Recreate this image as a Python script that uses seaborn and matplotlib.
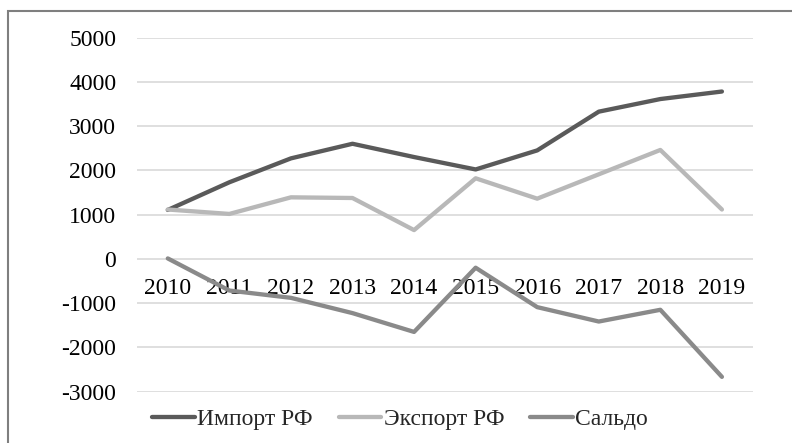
import matplotlib
matplotlib.use("Agg")
import matplotlib.pyplot as plt
from matplotlib.patches import Rectangle
import seaborn as sns
import pandas as pd

years = [2010, 2011, 2012, 2013, 2014, 2015, 2016, 2017, 2018, 2019]
import_rf = [1105, 1730, 2270, 2600, 2300, 2020, 2450, 3325, 3610, 3780]
export_rf = [1115, 1015, 1390, 1375, 650, 1820, 1360, 1910, 2460, 1115]
saldo = [10, -715, -880, -1225, -1650, -200, -1090, -1415, -1150, -2665]

series_names = ["Импорт РФ", "Экспорт РФ", "Сальдо"]
colors = ["#5a5a5a", "#b8b8b8", "#8a8a8a"]

df = pd.DataFrame({
    "year": years * 3,
    "value": import_rf + export_rf + saldo,
    "series": [series_names[0]] * 10 + [series_names[1]] * 10 + [series_names[2]] * 10,
})

sns.set_theme(style="white")
plt.rcParams["font.family"] = ["Liberation Serif", "DejaVu Serif"]
plt.rcParams["axes.unicode_minus"] = False

W, H = 792, 443
fig = plt.figure(figsize=(W / 100, H / 100), dpi=100)
ax = fig.add_axes([137 / W, 1 - 391.7 / H, (752.7 - 137) / W, (391.7 - 37.5) / H])

sns.lineplot(data=df, x="year", y="value", hue="series", palette=colors,
             linewidth=3.1, ax=ax, legend=False, zorder=3)

ax.set_xlim(2009.5, 2019.5)
ax.set_ylim(-3000, 5000)
ax.set_yticks(range(-3000, 5001, 1000))
ax.set_xticks(years)
ax.set_xticklabels([str(y) for y in years])
ax.yaxis.grid(True, color="#d9d9d9", linewidth=1.2, zorder=0)
ax.xaxis.grid(False)
for s in ["top", "right", "left"]:
    ax.spines[s].set_visible(False)
ax.spines["bottom"].set_position(("data", 0))
ax.spines["bottom"].set_visible(False)
ax.tick_params(axis="both", length=0, labelsize=17, colors="black")
ax.tick_params(axis="y", pad=15)
ax.tick_params(axis="x", pad=14)
ax.set_xlabel("")
ax.set_ylabel("")

# legend
handles = [plt.Line2D([], [], color=c, linewidth=3.1) for c in colors]
fig.legend(handles, series_names, loc="center", ncol=3, frameon=False,
           bbox_to_anchor=(400 / W, 1 - 419 / H), fontsize=17,
           handlelength=1.8, handletextpad=0.1, columnspacing=1.1)

# chart border
fig.patches.append(Rectangle((8 / W, -0.1), 1.2, 1 - 11.5 / H + 0.1,
                             transform=fig.transFigure, fill=False,
                             edgecolor="#7f7f7f", linewidth=1.5))

fig.savefig("out.png", dpi=100)
